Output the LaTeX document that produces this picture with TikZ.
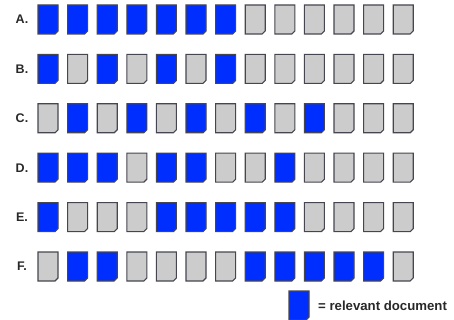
\documentclass[tikz,border=0pt]{standalone}
\usepackage{fontspec}
\setmainfont{Liberation Sans}
\usepackage{xcolor}
\usepackage{tikz}
\usetikzlibrary{calc, positioning}

\definecolor{relblue}{RGB}{0,46,255}
\definecolor{docgray}{RGB}{204,204,204}
\definecolor{docedge}{RGB}{70,70,80}
\definecolor{labelgray}{RGB}{40,40,40}

\tikzset{
    rowlabel/.style={font=\bfseries\fontsize{12.5}{13}\selectfont, text=labelgray, inner sep=0pt},
    docshape/.style={draw=docedge, line width=1.1pt, line join=miter},
    pics/document/.style={
        code={
            \draw[docshape, fill=#1] (0,0) -- (20,0) -- (20,-26) -- (17,-29) -- (0,-29) -- cycle;
        }
    }
}

\begin{document}
\begin{tikzpicture}[x=1pt, y=1pt]

    % =================================================================
    % 1. KHUNG HÌNH
    % =================================================================
    \useasboundingbox (0,0) rectangle (454,-320);

    % =================================================================
    % 2. CÁC HÀNG TÀI LIỆU A -- F (1 = liên quan, 0 = không)
    % =================================================================
    \foreach \lab/\pat [count=\r] in {
        A/{1,1,1,1,1,1,1,0,0,0,0,0,0},
        B/{1,0,1,0,1,0,1,0,0,0,0,0,0},
        C/{0,1,0,1,0,1,0,1,0,1,0,0,0},
        D/{1,1,1,0,1,1,0,0,1,0,0,0,0},
        E/{1,0,0,0,1,1,1,1,1,0,0,0,0},
        F/{0,1,1,0,0,0,0,1,1,1,1,1,0}}
    {
        % Nhãn hàng
        \node[rowlabel] (lab\lab) at (22, {-5-49.4*(\r-1)-14.5}) {\lab.};
        % Các tài liệu
        \foreach \b [count=\c] in \pat {
            \ifnum\b=1
                \pic at ({38+29.6*(\c-1)}, {-5-49.4*(\r-1)}) {document=relblue};
            \else
                \pic at ({38+29.6*(\c-1)}, {-5-49.4*(\r-1)}) {document=docgray};
            \fi
        }
    }

    % =================================================================
    % 3. CHÚ THÍCH
    % =================================================================
    \pic at (289,-291) {document=relblue};
    \node[rowlabel, anchor=west, font=\bfseries\fontsize{13.2}{14}\selectfont] (legend) at (318,-305.5) {= relevant document};

\end{tikzpicture}
\end{document}
